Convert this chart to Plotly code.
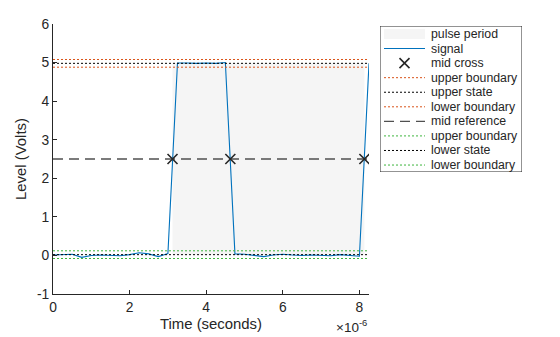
import numpy as np
import plotly.graph_objects as go

# ---- data (time in microseconds, scaled to seconds below) ----
t_us = [0, 0.25, 0.5, 0.75, 1.0, 1.25, 1.5, 1.75, 2.0, 2.25, 2.5, 2.75, 3.0,
        3.25, 3.5, 3.75, 4.0, 4.25, 4.5,
        4.75, 5.0, 5.25, 5.5, 5.75, 6.0, 6.25, 6.5, 6.75, 7.0, 7.25, 7.5, 7.75, 8.0,
        8.25]
signal = [0.01, 0.02, 0.03, -0.05, 0.0, 0.01, 0.0, -0.01, 0.02, 0.07, 0.04, -0.03, 0.05,
          4.99, 4.99, 4.98, 4.99, 4.98, 5.0,
          0.04, 0.03, 0.0, -0.03, 0.01, 0.03, 0.01, 0.0, 0.01, 0.0, -0.01, 0.02, 0.0, -0.02,
          4.98]
mid_cross_us = [3.12, 4.63, 8.13]
mid_ref = 2.5
upper_state = 4.98
lower_state = 0.02
tol = 0.10
x_tick_vals_us = [0, 2, 4, 6, 8]
x_tick_text = ["0", "2", "4", "6", "8"]
y_tick_vals = [-1, 0, 1, 2, 3, 4, 5, 6]
y_tick_text = ["-1", "0", "1", "2", "3", "4", "5", "6"]
legend_names = ["pulse period", "signal", "mid cross", "upper boundary", "upper state",
                "lower boundary", "mid reference", "upper boundary", "lower state",
                "lower boundary"]

t = [v * 1e-6 for v in t_us]
mc = [v * 1e-6 for v in mid_cross_us]
x0, x1 = t[0], t[-1]

ORANGE = "#D95319"
GREEN = "#3DB53D"
BLUE = "#0072BD"
TXT = "#262626"
SHADE = "#F5F5F5"
DOT = "2px,2px"
DASH = "10px,6px"

fig = go.Figure()

# pulse period shading
fig.add_trace(go.Scatter(
    x=[mc[0], mc[2], mc[2], mc[0], mc[0]],
    y=[lower_state, lower_state, upper_state, upper_state, lower_state],
    fill="toself", fillcolor=SHADE, line=dict(width=0, color=SHADE),
    mode="lines", hoverinfo="skip"))

fig.add_trace(go.Scatter(x=t, y=signal, mode="lines", line=dict(color=BLUE, width=1.1)))

styles = [
    (upper_state + tol, ORANGE, DOT, 1.0),
    (upper_state, "#000000", DOT, 1.0),
    (upper_state - tol, ORANGE, DOT, 1.0),
    (mid_ref, "#505050", DASH, 1.4),
    (lower_state + tol, GREEN, DOT, 1.0),
    (lower_state, "#000000", DOT, 1.0),
    (lower_state - tol, GREEN, DOT, 1.0),
]
for y, color, dash, w in styles:
    fig.add_trace(go.Scatter(x=[x0, x1], y=[y, y], mode="lines",
                             line=dict(color=color, width=w, dash=dash)))

fig.add_trace(go.Scatter(x=mc, y=[mid_ref] * len(mc), mode="markers",
                         marker=dict(symbol="x-thin", size=10, color=TXT,
                                     line=dict(width=1.6, color=TXT))))

# ---- legend drawn on its own pixel-scaled axes ----
LW, LH = 142, 146
row0, step = 8.0, 14.56
rows = [row0 + i * step for i in range(len(legend_names))]
sx0, sx1, tx = 4, 45, 49
fig.add_trace(go.Scatter(x=[sx0, sx1, sx1, sx0, sx0],
                         y=[rows[0] - 5, rows[0] - 5, rows[0] + 5, rows[0] + 5, rows[0] - 5],
                         fill="toself", fillcolor=SHADE, line=dict(width=0, color=SHADE),
                         mode="lines", xaxis="x2", yaxis="y2", hoverinfo="skip"))
fig.add_trace(go.Scatter(x=[sx0, sx1], y=[rows[1]] * 2, mode="lines", xaxis="x2", yaxis="y2",
                         line=dict(color=BLUE, width=1.1)))
fig.add_trace(go.Scatter(x=[(sx0 + sx1) / 2], y=[rows[2]], mode="markers", xaxis="x2", yaxis="y2",
                         marker=dict(symbol="x-thin", size=10, color=TXT,
                                     line=dict(width=1.6, color=TXT))))
for i, (_, color, dash, w) in enumerate(styles):
    fig.add_trace(go.Scatter(x=[sx0, sx1], y=[rows[3 + i]] * 2, mode="lines",
                             xaxis="x2", yaxis="y2",
                             line=dict(color=color, width=w, dash=dash)))

annotations = [dict(text=name, xref="x2", yref="y2", x=tx, y=ry, xanchor="left",
                    yanchor="middle", showarrow=False, font=dict(size=12.3, color=TXT))
               for name, ry in zip(legend_names, rows)]
annotations.append(dict(text="×10<sup>-6</sup>", xref="paper", yref="paper",
                        x=316 / 477, y=-0.118, xanchor="right", yanchor="middle",
                        showarrow=False, font=dict(size=13.5, color=TXT)))

fig.update_layout(
    width=560, height=337,
    margin=dict(l=53, r=30, t=24, b=43),
    paper_bgcolor="white", plot_bgcolor="white",
    font=dict(family="Liberation Sans, Arial, sans-serif", size=13.8, color=TXT),
    showlegend=False,
    xaxis=dict(domain=[0, 316 / 477], range=[0, 8.25e-6], automargin=False,
               tickvals=[v * 1e-6 for v in x_tick_vals_us],
               ticktext=x_tick_text, ticks="inside", ticklen=4, tickcolor=TXT,
               showline=True, linecolor=TXT, linewidth=1, mirror=False,
               showgrid=False, zeroline=False,
               title=dict(text="Time (seconds)", font=dict(size=14.9), standoff=5)),
    yaxis=dict(range=[-1, 6], tickvals=y_tick_vals, ticktext=y_tick_text, automargin=False,
               ticks="inside", ticklen=4, tickcolor=TXT,
               showline=True, linecolor=TXT, linewidth=1, mirror=False,
               showgrid=False, zeroline=False,
               title=dict(text="Level (Volts)", font=dict(size=14.9), standoff=6)),
    xaxis2=dict(domain=[(380 - 53) / 477, (522 - 53) / 477], range=[0, LW],
                visible=False, fixedrange=True),
    yaxis2=dict(domain=[(294 - 172) / 270, (294 - 26) / 270], range=[LH, 0],
                visible=False, fixedrange=True, anchor="x2"),
    shapes=[dict(type="rect", xref="x2", yref="y2", x0=0, x1=LW, y0=0, y1=LH,
                 line=dict(color=TXT, width=1), fillcolor="rgba(0,0,0,0)", layer="below")],
    annotations=annotations,
)
fig.write_html("out.html")
